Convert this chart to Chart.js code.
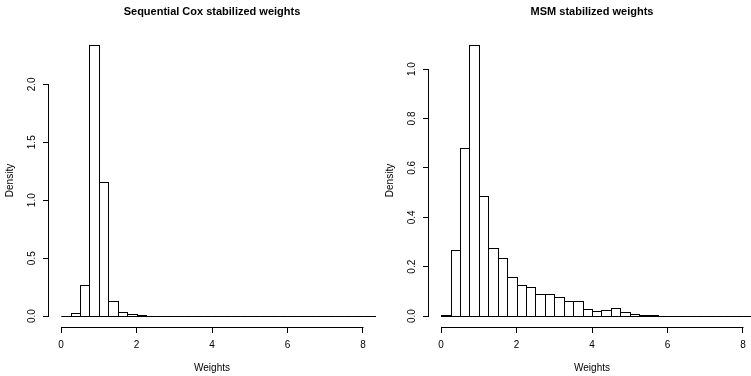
<!DOCTYPE html>
<html>
<head>
<meta charset="utf-8">
<title>Stabilized weights</title>
<script src="https://cdn.jsdelivr.net/npm/chart.js@4.4.1/dist/chart.umd.min.js"></script>
<style>
  body { margin: 0; background: #fff; overflow: hidden; }
  #wrap { position: relative; width: 751px; height: 376px; overflow: hidden; }
  canvas { position: absolute; top: 0; }
  #coxChart { left: 0; }
  #msmChart { left: 380px; }
</style>
</head>
<body>
<div id="wrap">
  <canvas id="coxChart" width="380" height="376"></canvas>
  <canvas id="msmChart" width="380" height="376"></canvas>
</div>
<script>
// lower edge of every bin, bins are 0.25 wide
const binStart = [0, 0.25, 0.5, 0.75, 1, 1.25, 1.5, 1.75, 2, 2.25, 2.5, 2.75, 3, 3.25, 3.5, 3.75,
                  4, 4.25, 4.5, 4.75, 5, 5.25, 5.5, 5.75, 6, 6.25, 6.5, 6.75, 7, 7.25, 7.5, 7.75, 8, 8.25]
const binWidth = 0.25

const coxDensity = [0.003, 0.025, 0.27, 2.34, 1.16, 0.131, 0.039, 0.016, 0.008, 0.004, 0.002, 0.001,
                    0.001, 0.001, 0.0005, 0.0005, 0.0005, 0.0005, 0.0005, 0.0005, 0.0005, 0.0005,
                    0, 0, 0, 0, 0, 0, 0, 0, 0, 0, 0, 0]
const msmDensity = [0.004, 0.267, 0.681, 1.098, 0.488, 0.277, 0.236, 0.16, 0.128, 0.116, 0.088, 0.09,
                    0.077, 0.062, 0.06, 0.03, 0.022, 0.026, 0.031, 0.015, 0.008, 0.006, 0.003, 0.002,
                    0.002, 0.001, 0.0015, 0.001, 0, 0.002, 0.001, 0.001, 0.001, 0.0005]

const xTicks = [0, 2, 4, 6, 8]
const coxYTicks = [0, 0.5, 1, 1.5, 2]
const msmYTicks = [0, 0.2, 0.4, 0.6, 0.8, 1]
const xRange = [0, 8]

Chart.defaults.font.family = "'Liberation Sans', Arial, sans-serif"
Chart.defaults.color = '#000'

// R style: outline every bin rectangle, axis lines only span the ticks
const histLook = {
  id: 'histLook',
  afterDatasetsDraw(chart) {
    const ctx = chart.ctx
    const area = chart.chartArea
    ctx.save()
    ctx.beginPath()
    ctx.rect(area.left, area.top, area.right - area.left + 1, area.bottom - area.top)
    ctx.clip()
    ctx.strokeStyle = '#000'
    ctx.lineWidth = 1
    chart.getDatasetMeta(0).data.forEach(bar => {
      const { x, y, base, width } = bar.getProps(['x', 'y', 'base', 'width'], true)
      const l = Math.round(x - width / 2) + 0.5
      const r = Math.round(x + width / 2) + 0.5
      const t = Math.round(y) + 0.5
      const b = Math.round(base) + 0.5
      ctx.strokeRect(l, t, r - l, b - t)
    })
    ctx.restore()
  },
  afterDraw(chart) {
    const ctx = chart.ctx
    const xs = chart.scales.x
    const ys = chart.scales.y
    const xt = xs.ticks.map(t => t.value)
    const yt = ys.ticks.map(t => t.value)
    ctx.save()
    ctx.strokeStyle = '#000'
    ctx.lineWidth = 1
    ctx.beginPath()
    const ay = Math.round(xs.top) + 0.5
    ctx.moveTo(Math.round(xs.getPixelForValue(xt[0])) + 0.5, ay)
    ctx.lineTo(Math.round(xs.getPixelForValue(xt[xt.length - 1])) + 0.5, ay)
    const ax = Math.round(ys.right) - 0.5
    ctx.moveTo(ax, Math.round(ys.getPixelForValue(yt[0])) + 0.5)
    ctx.lineTo(ax, Math.round(ys.getPixelForValue(yt[yt.length - 1])) + 0.5)
    ctx.stroke()
    ctx.restore()
  }
}

function makeHist(id, title, density, yTicks) {
  const top = Math.max(...density)
  const span = xRange[1] - xRange[0]
  new Chart(document.getElementById(id), {
    type: 'bar',
    data: {
      datasets: [{
        data: binStart.map((s, i) => ({ x: s + binWidth / 2, y: density[i] })),
        backgroundColor: '#fff',
        borderWidth: 0,
        barPercentage: 1,
        categoryPercentage: 1
      }]
    },
    plugins: [histLook],
    options: {
      responsive: false,
      animation: false,
      devicePixelRatio: 1,
      layout: { padding: { left: 0, right: 5, top: 0, bottom: 0 } },
      plugins: {
        legend: { display: false },
        tooltip: { enabled: false },
        title: {
          display: true,
          text: title,
          fullSize: false,
          color: '#000',
          font: { size: 11, weight: 'bold' },
          padding: { top: 5.4, bottom: 15.4 }
        }
      },
      scales: {
        x: {
          type: 'linear',
          offset: false,
          min: xRange[0] - 0.04 * span,
          max: xRange[1] + 0.04 * span,
          afterBuildTicks: s => { s.ticks = xTicks.map(v => ({ value: v })) },
          afterFit: s => { s.height = 49 },
          border: { display: false },
          grid: { offset: false, drawOnChartArea: false, drawTicks: true, tickLength: 6, color: '#000' },
          ticks: { font: { size: 10 }, padding: 6, maxRotation: 0, autoSkip: false, callback: v => String(v) },
          title: { display: true, text: 'Weights', font: { size: 10 }, padding: { top: 0, bottom: 2 } }
        },
        y: {
          min: -0.04 * top,
          max: 1.04 * top,
          afterBuildTicks: s => { s.ticks = yTicks.map(v => ({ value: v })) },
          afterFit: s => { s.width = 49 },
          border: { display: false },
          grid: { drawOnChartArea: false, drawTicks: true, tickLength: 6, color: '#000' },
          ticks: { font: { size: 10 }, padding: 4, minRotation: 90, maxRotation: 90, crossAlign: 'center',
                   autoSkip: false, callback: v => v.toFixed(1) },
          title: { display: true, text: 'Density', font: { size: 10 }, padding: { top: 4, bottom: 0 } }
        }
      }
    }
  })
}

makeHist('coxChart', 'Sequential Cox stabilized weights', coxDensity, coxYTicks)
makeHist('msmChart', 'MSM stabilized weights', msmDensity, msmYTicks)
</script>
</body>
</html>
